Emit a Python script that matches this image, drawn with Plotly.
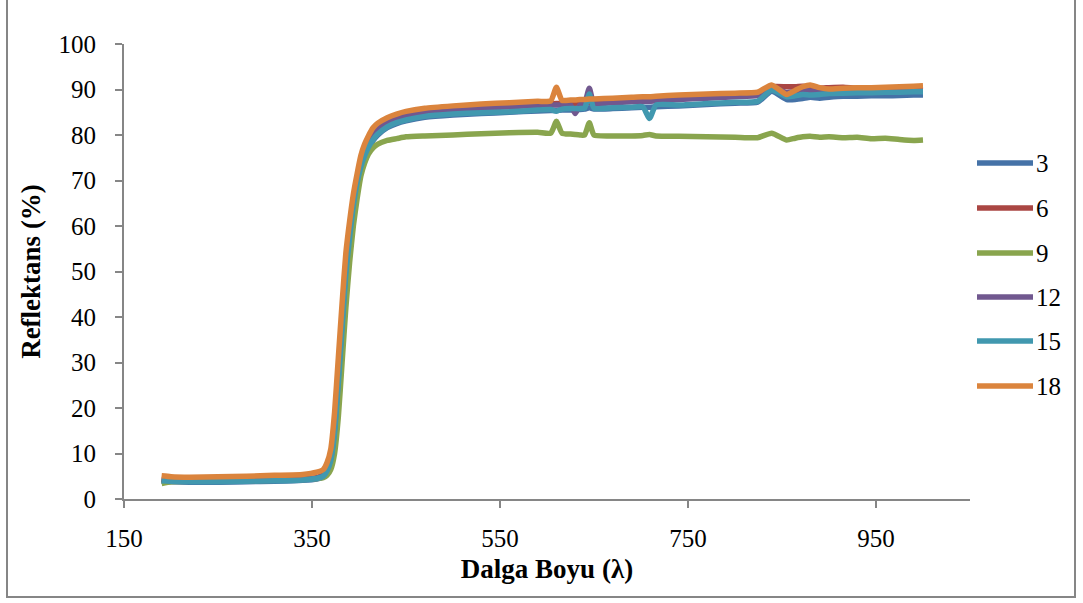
import plotly.graph_objects as go

# Wavelength grid (nm) shared by all samples
wavelength = [190, 200, 220, 250, 280, 310, 340, 355, 362, 366,
              370, 374, 378, 382, 386, 390, 394, 398, 402, 406,
              410, 415, 420, 430, 440, 450, 470, 500, 530, 560,
              590, 604, 610, 616, 625, 630, 635, 640, 645, 650,
              670, 690, 702, 709, 716, 740, 770, 800, 824, 839,
              855, 864, 872, 880, 890, 900, 915, 930, 945, 960,
              975, 990, 1000]

refl_3 = [3.9, 3.8, 3.7, 3.7, 3.8, 3.9, 4.1, 4.4, 4.9, 6.0,
          8.0, 14.0, 25.0, 37.0, 49.0, 57.0, 64.0, 69.0, 72.5, 75.0,
          77.0, 78.8, 80.0, 81.6, 82.5, 83.1, 83.9, 84.4, 84.7, 85.0,
          85.3, 85.4, 85.4, 85.5, 85.5, 85.6, 85.6, 85.7, 86.0, 85.7,
          85.8, 86.0, 86.1, 86.1, 86.2, 86.4, 86.7, 87.0, 87.2, 89.6,
          87.8, 87.8, 88.0, 88.3, 88.1, 88.3, 88.5, 88.5, 88.6, 88.6,
          88.7, 88.8, 88.8]

refl_6 = [4.3, 4.1, 4.0, 4.0, 4.1, 4.2, 4.4, 4.7, 5.3, 6.6,
          9.0, 15.0, 26.0, 38.0, 50.0, 58.0, 65.0, 70.0, 73.5, 76.0,
          78.0, 79.8, 81.0, 82.8, 83.7, 84.3, 85.0, 85.6, 86.0, 86.4,
          86.7, 86.8, 86.9, 86.9, 87.0, 87.0, 87.1, 87.1, 87.2, 87.2,
          87.4, 87.6, 87.7, 87.7, 87.8, 88.1, 88.4, 88.7, 88.9, 90.6,
          90.6, 90.6, 90.7, 90.6, 90.3, 90.4, 90.5, 90.3, 90.4, 90.3,
          90.4, 90.4, 90.4]

refl_9 = [3.4, 3.8, 3.9, 3.9, 4.0, 4.1, 4.3, 4.5, 4.7, 5.2,
          6.5, 10.0, 18.0, 30.0, 42.0, 52.0, 60.0, 66.0, 71.0, 73.8,
          75.8, 77.2, 78.0, 78.8, 79.2, 79.6, 79.8, 80.0, 80.3, 80.5,
          80.6, 80.4, 83.0, 80.4, 80.2, 80.1, 80.0, 80.0, 82.7, 80.0,
          79.8, 79.8, 79.9, 80.1, 79.8, 79.7, 79.6, 79.5, 79.4, 80.4,
          78.9, 79.3, 79.6, 79.7, 79.5, 79.6, 79.4, 79.5, 79.2, 79.3,
          79.0, 78.8, 78.9]

refl_12 = [4.2, 4.0, 3.9, 3.9, 4.0, 4.1, 4.3, 4.6, 5.2, 6.5,
           9.0, 15.5, 27.0, 39.0, 51.0, 59.0, 65.5, 70.5, 74.0, 76.5,
           78.3, 80.0, 81.2, 82.9, 83.8, 84.4, 85.0, 85.5, 85.9, 86.2,
           86.5, 86.6, 86.6, 86.6, 86.6, 84.7, 86.6, 87.0, 90.3, 86.9,
           87.1, 87.3, 87.4, 87.4, 87.5, 87.8, 88.1, 88.4, 88.7, 90.6,
           89.3, 89.6, 90.0, 89.7, 89.6, 89.8, 89.9, 89.9, 90.0, 89.9,
           90.0, 90.0, 90.0]

refl_15 = [4.0, 3.9, 3.8, 3.8, 3.9, 4.0, 4.2, 4.5, 5.0, 6.2,
           8.5, 14.5, 25.5, 37.5, 49.5, 57.5, 64.5, 69.5, 73.0, 75.5,
           77.3, 79.0, 80.2, 81.8, 82.7, 83.3, 84.1, 84.6, 84.9, 85.1,
           85.5, 85.6, 85.2, 85.7, 85.8, 85.8, 85.8, 85.9, 89.0, 85.9,
           86.0, 86.1, 86.2, 83.6, 86.6, 86.6, 86.9, 87.2, 87.4, 89.9,
           88.4, 88.6, 88.9, 88.8, 88.9, 89.1, 89.2, 89.3, 89.3, 89.4,
           89.4, 89.5, 89.5]

refl_18 = [5.1, 4.9, 4.8, 4.9, 5.0, 5.2, 5.4, 5.9, 6.5, 8.0,
           11.0, 19.0, 31.0, 43.0, 54.0, 61.0, 67.0, 71.5, 75.5, 78.0,
           79.8, 81.6, 82.6, 83.8, 84.6, 85.2, 85.9, 86.4, 86.8, 87.1,
           87.4, 87.5, 90.5, 87.6, 87.7, 87.7, 87.8, 87.8, 87.9, 87.9,
           88.1, 88.3, 88.4, 88.4, 88.5, 88.8, 89.0, 89.2, 89.4, 91.0,
           88.9, 89.8, 90.6, 91.0, 90.4, 90.1, 90.3, 90.4, 90.4, 90.5,
           90.6, 90.7, 90.8]

series_names = ["3", "6", "9", "12", "15", "18"]
series_values = [refl_3, refl_6, refl_9, refl_12, refl_15, refl_18]
series_colors = ["#4572A7", "#AA4643", "#89A54E", "#71588F", "#4198AF", "#DB843D"]

x_ticks = [150, 350, 550, 750, 950]
y_ticks = [0, 10, 20, 30, 40, 50, 60, 70, 80, 90, 100]

FONT = "Liberation Serif, Times New Roman, serif"
AXIS_GREY = "#868686"
TICK_SIZE = 25
TITLE_SIZE = 27

# plot-area geometry in pixels (used to place legend / frame in paper units)
W, H = 1083, 603
ML, MR, MT, MB = 124, 113, 44, 104
PW, PH = W - ML - MR, H - MT - MB


def px_x(px):
    return (px - ML) / PW


def px_y(py):
    return (H - MB - py) / PH


fig = go.Figure()
for name, vals, col in zip(series_names, series_values, series_colors):
    fig.add_trace(go.Scatter(
        x=wavelength, y=vals, name=name, mode="lines",
        line=dict(color=col, width=5.5, shape="spline", smoothing=0.5),
        showlegend=False,
    ))

shapes = []
annotations = []

# legend drawn at the right of the plot area
legend_rows = [163, 208, 253, 297, 341, 386]
for name, col, ry in zip(series_names, series_colors, legend_rows):
    shapes.append(dict(type="line", xref="paper", yref="paper",
                       x0=px_x(977), x1=px_x(1033), y0=px_y(ry), y1=px_y(ry),
                       line=dict(color=col, width=5.5)))
    annotations.append(dict(xref="paper", yref="paper", x=px_x(1034), y=px_y(ry),
                            text=name, showarrow=False, xanchor="left", yanchor="middle",
                            font=dict(family=FONT, size=TICK_SIZE, color="black")))

# outer chart frame
shapes.append(dict(type="rect", xref="paper", yref="paper",
                   x0=px_x(7), x1=px_x(1075), y0=px_y(597), y1=px_y(-2),
                   line=dict(color=AXIS_GREY, width=2), fillcolor="rgba(0,0,0,0)",
                   layer="below"))

fig.update_layout(
    width=W, height=H,
    margin=dict(l=ML, r=MR, t=MT, b=MB, pad=0),
    paper_bgcolor="white", plot_bgcolor="white",
    font=dict(family=FONT, size=TICK_SIZE, color="black"),
    shapes=shapes, annotations=annotations,
    xaxis=dict(
        range=[150, 1050], tickvals=x_ticks, showgrid=False, zeroline=False,
        showline=True, linecolor=AXIS_GREY, linewidth=2,
        ticks="outside", ticklen=7, tickcolor=AXIS_GREY, tickwidth=2,
        ticklabelstandoff=9,
        title=dict(text="<b>Dalga Boyu (λ)</b>", font=dict(family=FONT, size=TITLE_SIZE),
                   standoff=8),
    ),
    yaxis=dict(
        range=[0, 100], tickvals=y_ticks, showgrid=False, zeroline=False,
        showline=True, linecolor=AXIS_GREY, linewidth=2,
        ticks="outside", ticklen=7, tickcolor=AXIS_GREY, tickwidth=2,
        ticklabelstandoff=14,
        title=dict(text="<b>Reflektans (%)</b>", font=dict(family=FONT, size=TITLE_SIZE),
                   standoff=10),
    ),
)

fig.write_html("out.html")
